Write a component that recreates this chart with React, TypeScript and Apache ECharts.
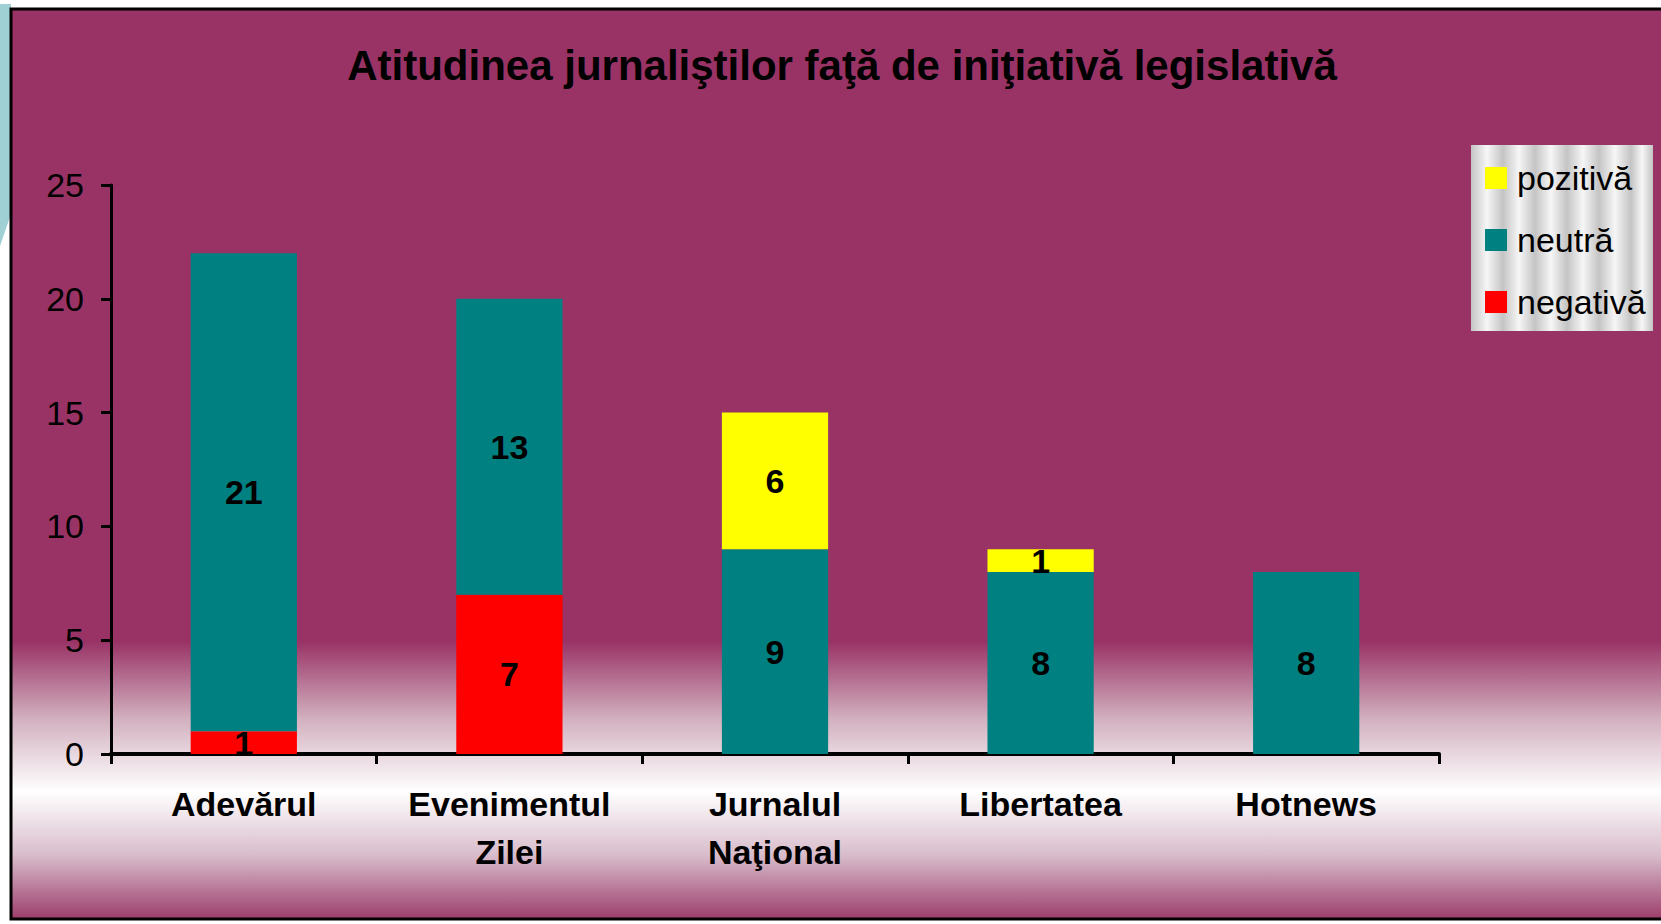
import React, { useEffect, useRef } from "react";
import * as echarts from "echarts";

const titleText = "Atitudinea jurnaliştilor faţă de iniţiativă legislativă";
const categories = ["Adevărul", "Evenimentul\nZilei", "Jurnalul\nNaţional", "Libertatea", "Hotnews"];
const seriesNames = ["negativă", "neutră", "pozitivă"];
const legendOrder = ["pozitivă", "neutră", "negativă"];
const negativa = [1, 7, null, null, null];
const neutra = [21, 13, 9, 8, 8];
const pozitiva = [null, null, 6, 1, null];
const yTicks = { min: 0, max: 25, interval: 5 };

const FONT = "'Liberation Sans', Arial, sans-serif";
const MAGENTA = "#993366";

function legendStripes() {
  const items: any[] = [];
  const x0 = 1471, w = 182, y0 = 145, h = 186, step = 32;
  items.push({ type: "rect", shape: { x: x0, y: y0, width: w, height: h }, style: { fill: "#d6d6d6" }, z: 1 });
  for (let i = 0; i * step < w; i++) {
    const cw = Math.min(step, w - i * step);
    items.push({
      type: "rect",
      shape: { x: x0 + i * step, y: y0, width: cw, height: h },
      style: {
        fill: new echarts.graphic.LinearGradient(0, 0, 1, 0, [
          { offset: 0, color: "#c4c4c4" },
          { offset: 0.5, color: "#f6f6f6" },
          { offset: 1, color: "#c4c4c4" },
        ]),
      },
      z: 2,
    });
  }
  return items;
}

export default function App() {
  const ref = useRef<HTMLDivElement>(null);
  useEffect(() => {
    document.body.style.margin = "0";
    const chart = echarts.init(ref.current!, undefined, { renderer: "svg" });
    const labelCfg = {
      show: true,
      position: "inside",
      color: "#000",
      fontFamily: FONT,
      fontWeight: "bold",
      fontSize: 34,
    };
    const colors = ["#ff0000", "#008080", "#ffff00"];
    const datas = [negativa, neutra, pozitiva];
    chart.setOption({
      animation: false,
      backgroundColor: "#ffffff",
      title: {
        text: titleText,
        left: 837,
        textAlign: "center",
        top: 39,
        textStyle: { fontFamily: FONT, fontWeight: "bold", fontSize: 42, color: "#000" },
      },
      graphic: {
        elements: [
          {
            type: "polygon",
            shape: { points: [[0, 4], [11, 4], [11, 214], [0, 246]] },
            style: { fill: "#9fd0d4" },
            z: -20,
          },
          {
            type: "rect",
            shape: { x: 11, y: 9, width: 1700, height: 910 },
            style: {
              fill: new echarts.graphic.LinearGradient(0, 0, 0, 1, [
                { offset: 0, color: MAGENTA },
                { offset: 0.695, color: MAGENTA },
                { offset: 0.78, color: "#d2b0bf" },
                { offset: 0.86, color: "#ffffff" },
                { offset: 0.93, color: "#d8bccb" },
                { offset: 1, color: "#9c3d6b" },
              ]),
              stroke: "#000",
              lineWidth: 3,
            },
            z: -10,
          },
          ...legendStripes(),
        ],
      },
      legend: {
        data: legendOrder,
        orient: "vertical",
        left: 1485,
        top: 161,
        padding: 0,
        itemWidth: 22,
        itemHeight: 22,
        itemGap: 28,
        icon: "rect",
        z: 5,
        textStyle: { fontFamily: FONT, fontSize: 34, color: "#000", lineHeight: 30, padding: [0, 0, 0, 5] },
      },
      grid: { left: 111, right: 222, top: 185, bottom: 170, containLabel: false },
      xAxis: {
        type: "category",
        data: categories,
        axisLine: { lineStyle: { color: "#000", width: 4 } },
        axisTick: { show: true, length: 10, lineStyle: { color: "#000", width: 3 } },
        axisLabel: {
          color: "#000",
          fontFamily: FONT,
          fontWeight: "bold",
          fontSize: 34,
          lineHeight: 48,
          margin: 26,
          interval: 0,
        },
      },
      yAxis: {
        type: "value",
        min: yTicks.min,
        max: yTicks.max,
        interval: yTicks.interval,
        splitLine: { show: false },
        axisLine: { show: true, lineStyle: { color: "#000", width: 3 } },
        axisTick: { show: true, length: 10, lineStyle: { color: "#000", width: 3 } },
        axisLabel: { color: "#000", fontFamily: FONT, fontSize: 34, margin: 27 },
      },
      series: seriesNames.map((name, i) => ({
        name,
        type: "bar",
        stack: "total",
        barCategoryGap: "60%",
        data: datas[i],
        itemStyle: { color: colors[i] },
        label: labelCfg,
      })),
    });
    return () => chart.dispose();
  }, []);
  return <div ref={ref} style={{ width: 1661, height: 924 }} />;
}
